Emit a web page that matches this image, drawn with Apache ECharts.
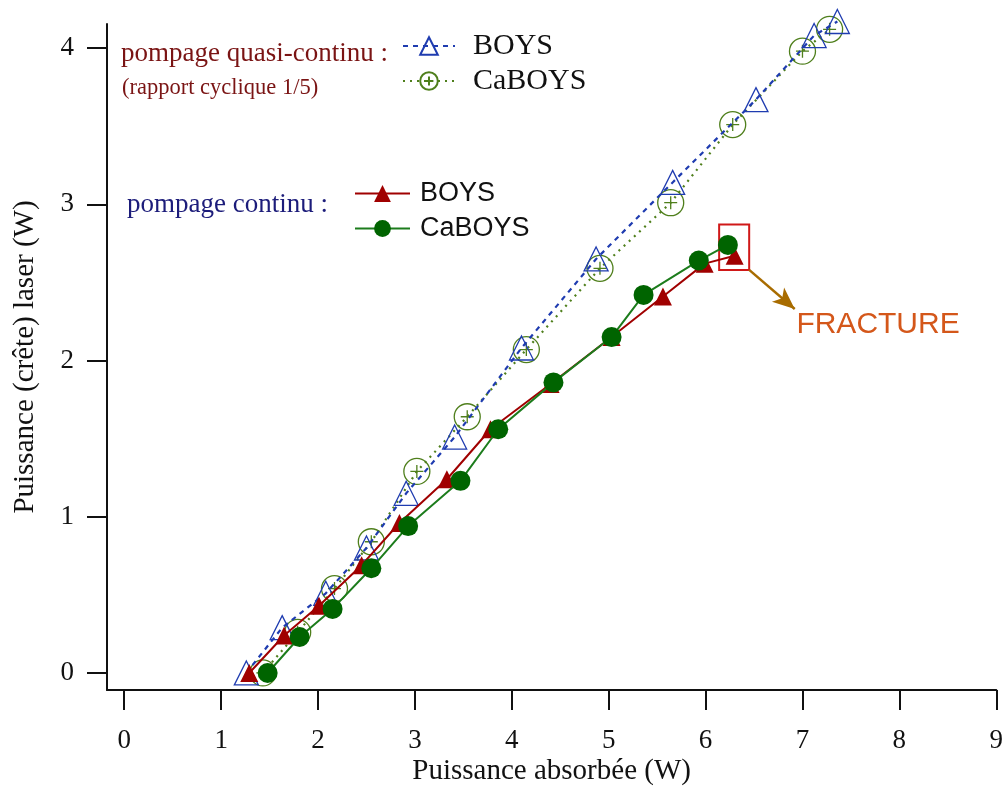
<!DOCTYPE html>
<html>
<head>
<meta charset="utf-8">
<script src="https://cdn.jsdelivr.net/npm/echarts@6/dist/echarts.min.js"></script>
<style>
  html, body { margin: 0; padding: 0; background: #fff; }
  #chart { width: 1006px; height: 798px; }
</style>
</head>
<body>
<div id="chart"></div>
<script>
// pompage quasi-continu (rapport cyclique 1/5)
const quasiBoysX = [1.26, 1.63, 2.08, 2.50, 2.91, 3.41, 4.10, 4.87, 5.66, 6.52, 7.12, 7.36];
const quasiBoysY = [0, 0.29, 0.51, 0.80, 1.15, 1.51, 2.08, 2.65, 3.14, 3.67, 4.08, 4.17];
const quasiCaX = [1.43, 1.79, 2.17, 2.55, 3.02, 3.54, 4.15, 4.91, 5.64, 6.28, 7.00, 7.28];
const quasiCaY = [0, 0.26, 0.54, 0.84, 1.29, 1.64, 2.07, 2.59, 3.01, 3.51, 3.98, 4.12];
// pompage continu
const contBoysX = [1.29, 1.65, 2.01, 2.45, 2.84, 3.33, 3.78, 4.40, 5.03, 5.56, 5.99, 6.30];
const contBoysY = [0, 0.24, 0.43, 0.69, 0.96, 1.24, 1.56, 1.85, 2.15, 2.41, 2.62, 2.67];
const contCaX = [1.48, 1.81, 2.15, 2.55, 2.93, 3.47, 3.86, 4.43, 5.03, 5.36, 5.93, 6.23];
const contCaY = [0, 0.23, 0.41, 0.67, 0.94, 1.23, 1.56, 1.86, 2.15, 2.42, 2.64, 2.74];

const xTicks = [0, 1, 2, 3, 4, 5, 6, 7, 8, 9];
const yTicks = [0, 1, 2, 3, 4];

// zone de fracture (rectangle, flèche, texte)
const fractureBox = [[6.14, 2.87], [6.45, 2.58]];
const fractureArrow = [[6.45, 2.58], [6.92, 2.33]];
const fractureLabel = [7.78, 2.23];

const pair = (xs, ys) => xs.map((x, i) => [x, ys[i]]);

const serif = "Liberation Serif";
const sans = "Liberation Sans";
// cercle ouvert avec une croix
const circlePlus = "path://M0,-10A10,10,0,1,1,0,10A10,10,0,1,1,0,-10ZM-5,0L5,0M0,-5L0,5";

const chart = echarts.init(document.getElementById("chart"));
const option = {
  animation: false,
  grid: { left: 107, top: 24, width: 893, height: 666 },
  xAxis: {
    type: "value",
    min: -0.178,
    max: 9,
    name: "Puissance absorbée (W)",
    nameLocation: "middle",
    nameGap: 67,
    nameMoveOverlap: false,
    nameTextStyle: { fontFamily: serif, fontSize: 29, color: "#111" },
    axisLine: { onZero: false, lineStyle: { color: "#111", width: 2 } },
    axisTick: { customValues: xTicks, length: 20, inside: false, lineStyle: { color: "#111", width: 2 } },
    axisLabel: { customValues: xTicks, margin: 37, fontFamily: serif, fontSize: 27, color: "#111" },
    splitLine: { show: false },
  },
  yAxis: {
    type: "value",
    min: -0.109,
    max: 4.154,
    name: "Puissance (crête) laser (W)",
    nameLocation: "middle",
    nameGap: 67,
    nameMoveOverlap: false,
    nameTextStyle: { fontFamily: serif, fontSize: 29, color: "#111" },
    axisLine: { show: true, onZero: false, lineStyle: { color: "#111", width: 2 } },
    axisTick: { show: true, customValues: yTicks, length: 20, lineStyle: { color: "#111", width: 2 } },
    axisLabel: { customValues: yTicks, margin: 33, fontFamily: serif, fontSize: 27, color: "#111" },
    splitLine: { show: false },
  },
  legend: [
    {
      data: ["BOYS qc", "CaBOYS qc"],
      orient: "vertical",
      left: 397,
      top: 26,
      itemWidth: 52,
      itemHeight: 22,
      itemGap: 5,
      formatter: (n) => n.replace(" qc", ""),
      textStyle: { fontFamily: serif, fontSize: 30, color: "#111", padding: [0, 0, 0, 13] },
    },
    {
      data: ["BOYS", "CaBOYS"],
      orient: "vertical",
      left: 349,
      top: 175,
      itemWidth: 55,
      itemHeight: 21,
      itemGap: 8,
      textStyle: { fontFamily: sans, fontSize: 27, color: "#111", padding: [0, 0, 0, 5] },
    },
  ],
  graphic: [
    { type: "text", left: 121, top: 40, style: { text: "pompage quasi-continu :", font: "27px " + serif, fill: "#7a1414" } },
    { type: "text", left: 122, top: 77, style: { text: "(rapport cyclique 1/5)", font: "22.5px " + serif, fill: "#7a1414" } },
    { type: "text", left: 127, top: 191, style: { text: "pompage continu :", font: "27px " + serif, fill: "#1c1c7a" } },
  ],
  series: [
    {
      name: "CaBOYS qc",
      type: "line",
      clip: false,
      data: pair(quasiCaX, quasiCaY),
      symbol: circlePlus,
      symbolSize: 26,
      itemStyle: { color: "rgba(0,0,0,0)", borderColor: "#4f7f1c", borderWidth: 1.3 },
      lineStyle: { color: "#4f7f1c", width: 2.2, type: [2, 5] },
      z: 2,
    },
    {
      name: "BOYS qc",
      type: "line",
      clip: false,
      data: pair(quasiBoysX, quasiBoysY),
      symbol: "triangle",
      symbolSize: 24,
      itemStyle: { color: "rgba(0,0,0,0)", borderColor: "#1f3cb0", borderWidth: 1.3 },
      lineStyle: { color: "#1f3cb0", width: 2.2, type: [5, 5] },
      z: 3,
    },
    {
      name: "BOYS",
      type: "line",
      clip: false,
      data: pair(contBoysX, contBoysY),
      symbol: "triangle",
      symbolSize: 18,
      itemStyle: { color: "#a00000" },
      lineStyle: { color: "#a00000", width: 2 },
      z: 4,
      markArea: {
        silent: true,
        itemStyle: { color: "rgba(0,0,0,0)", borderColor: "#d01818", borderWidth: 2 },
        data: [[{ coord: fractureBox[0] }, { coord: fractureBox[1] }]],
      },
      markLine: {
        silent: true,
        symbol: ["none", "arrow"],
        symbolSize: [14, 22],
        label: { show: false },
        lineStyle: { color: "#a86c00", width: 2.5, type: "solid" },
        data: [[{ coord: fractureArrow[0] }, { coord: fractureArrow[1] }]],
      },
      markPoint: {
        silent: true,
        symbol: "rect",
        symbolSize: 1,
        itemStyle: { color: "rgba(0,0,0,0)" },
        label: {
          show: true,
          position: "inside",
          formatter: "FRACTURE",
          fontFamily: sans,
          fontSize: 30,
          color: "#d4571a",
        },
        data: [{ coord: fractureLabel }],
      },
    },
    {
      name: "CaBOYS",
      type: "line",
      clip: false,
      data: pair(contCaX, contCaY),
      symbol: "circle",
      symbolSize: 20,
      itemStyle: { color: "#006400" },
      lineStyle: { color: "#1c7c1c", width: 2 },
      z: 5,
    },
  ],
};
chart.setOption(option);
</script>
</body>
</html>
